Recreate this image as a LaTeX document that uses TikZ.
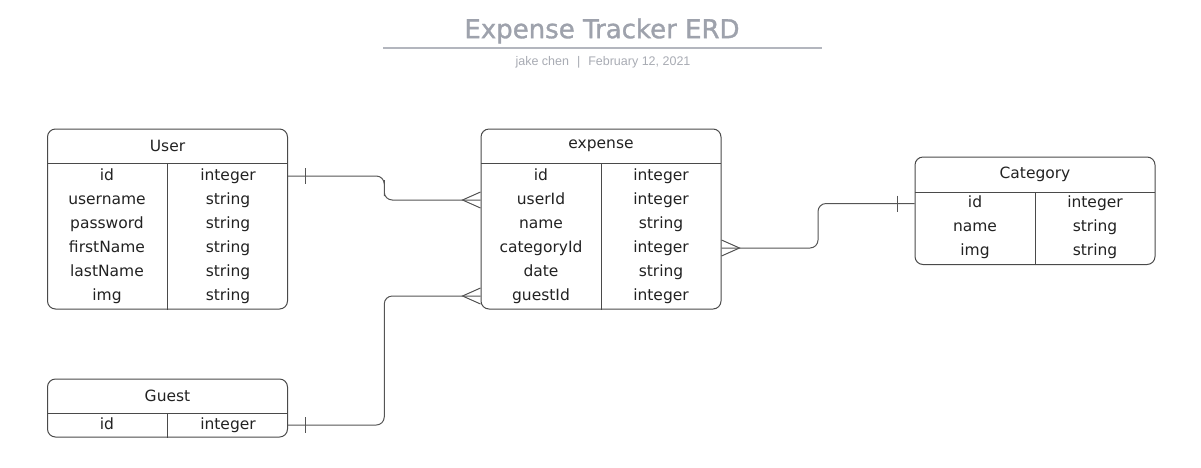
\documentclass[tikz,border=0pt]{standalone}
\usepackage{fontspec}
\setmainfont{DejaVu Sans}
\newfontfamily\subfont{Liberation Sans}
\newfontfamily\titlefont[FakeBold=1.2]{DejaVu Sans}
\usetikzlibrary{calc}

\definecolor{titlegray}{HTML}{9EA2AC}
\definecolor{rulegray}{HTML}{B3B6BE}
\definecolor{subgray}{HTML}{A8ABB3}
\definecolor{boxline}{HTML}{4A4A4A}
\definecolor{relline}{HTML}{555555}
\definecolor{fieldtext}{HTML}{222222}

\tikzset{
  entity/.style={rectangle,rounded corners=8pt,draw=boxline,line width=1pt,minimum width=240pt,inner sep=0pt},
  header/.style={minimum width=240pt,minimum height=34pt,inner sep=0pt,text=fieldtext,font=\fontsize{15.5}{18}\selectfont},
  field/.style={inner sep=0pt,text height=10pt,text depth=2pt,text=fieldtext,font=\fontsize{15.5}{18}\selectfont},
  rel/.style={draw=relline,line width=1pt}
}

\begin{document}
\begin{tikzpicture}[x=1pt,y=-1pt]

\useasboundingbox (0,0) rectangle (1201,467);

% title block
\node[text=titlegray,font=\titlefont\fontsize{26}{30}\selectfont] (title) at (602,31) {Expense Tracker ERD};
\draw[rulegray,line width=1.6pt] (383,48) -- (822,48);
\node[text=subgray,font=\subfont\fontsize{12.5}{14}\selectfont] (sub) at (603,62) {jake chen\hspace{8pt}|\hspace{8pt}February 12, 2021};

% User
\node[entity,minimum height=180pt] (User) at (167.5,219) {};
\node[header] (Userh) at (167.5,146) {User};
\draw[boxline,line width=1pt] (Userh.south west) -- (Userh.south east);
\draw[boxline,line width=1pt] (User.south) -- (User.south |- Userh.south);
\foreach \f/\t [count=\i] in {id/integer,username/string,password/string,firstName/string,lastName/string,img/string}
  {
  \node[field] (user\i) at (107,{176+24*(\i-1)}) {\f};
  \node[field] (usert\i) at (228,{176+24*(\i-1)}) {\t};
  }

% expense
\node[entity,minimum height=180pt] (expense) at (601,219) {};
\node[header] (expenseh) at (601,146) {expense};
\draw[boxline,line width=1pt] (expenseh.south west) -- (expenseh.south east);
\draw[boxline,line width=1pt] (expense.south) -- (expense.south |- expenseh.south);
\foreach \f/\t [count=\i] in {id/integer,userId/integer,name/string,categoryId/integer,date/string,guestId/integer}
  {
  \node[field] (exp\i) at (541,{176+24*(\i-1)}) {\f};
  \node[field] (expt\i) at (661,{176+24*(\i-1)}) {\t};
  }

% Category
\node[entity,minimum height=107.5pt] (Category) at (1035,210.75) {};
\node[header,minimum height=35pt] (Categoryh) at (1035,174.5) {Category};
\draw[boxline,line width=1pt] (Categoryh.south west) -- (Categoryh.south east);
\draw[boxline,line width=1pt] (Category.south) -- (Category.south |- Categoryh.south);
\foreach \f/\t [count=\i] in {id/integer,name/string,img/string}
  {
  \node[field] (cat\i) at (975,{203.5+24*(\i-1)}) {\f};
  \node[field] (catt\i) at (1095,{203.5+24*(\i-1)}) {\t};
  }

% Guest
\node[entity,minimum height=58pt] (Guest) at (167.5,408) {};
\node[header] (Guesth) at (167.5,396) {Guest};
\draw[boxline,line width=1pt] (Guesth.south west) -- (Guesth.south east);
\draw[boxline,line width=1pt] (Guest.south) -- (Guest.south |- Guesth.south);
\node[field] (guest1) at (107,425) {id};
\node[field] (guestt1) at (228,425) {integer};

% relations
\path (User.east |- usert1) coordinate (u1) (expense.west |- exp2) coordinate (e2);
\path (Guest.east |- guestt1) coordinate (g1) (expense.west |- exp6) coordinate (e6);
\path (expense.east |- expt4) coordinate (e4) (Category.west |- cat1) coordinate (c1);

\draw[rel,rounded corners=8pt] (u1) -| ($(u1)!.5!(e2)$) |- (e2);
\draw[rel,rounded corners=8pt] (g1) -| ($(g1)!.5!(e6)$) |- (e6);
\draw[rel,rounded corners=8pt] (e4) -| ($(e4)!.5!(c1)$) |- (c1);

% one ends
\draw[rel] (u1) ++(17,-8) -- ++(0,16);
\draw[rel] (g1) ++(17,-8) -- ++(0,16);
\draw[rel] (c1) ++(-17,-8) -- ++(0,16);

% many ends
\draw[rel] (e2) ++(0,-8) -- ++(-18,8) -- ++(18,8);
\draw[rel] (e6) ++(0,-8) -- ++(-18,8) -- ++(18,8);
\draw[rel] (e4) ++(0,-8) -- ++(18,8) -- ++(-18,8);

\end{tikzpicture}
\end{document}
